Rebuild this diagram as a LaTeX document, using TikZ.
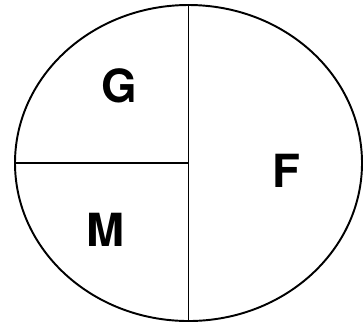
\documentclass[tikz,border=0pt]{standalone}
\usepackage{fontspec}
\setsansfont{TeX Gyre Heros}
\usetikzlibrary{positioning}
\tikzset{
  every picture/.style={line width=1.1pt},
  part/.style={font=\sffamily\bfseries\fontsize{26}{30}\selectfont, inner sep=0pt},
}
\begin{document}
\begin{tikzpicture}[x=0.02cm, y=-0.02cm]
  \useasboundingbox (0,0) rectangle (364,326);
  % the whole, split in three
  \coordinate (c) at (188.5,163);
  \draw (c) ellipse [x radius=173.5, y radius=158];
  \coordinate (top) at (188.5,5);
  \coordinate (bot) at (188.5,321);
  \coordinate (left) at (15,163);
  \draw (top) -- (bot);
  \draw (left) -- (c);
  % labels
  \node[part] (g) at (119,86) {G};
  \node[part] (m) at (106,230) {M};
  \node[part] (f) at (286,171) {F};
\end{tikzpicture}
\end{document}
